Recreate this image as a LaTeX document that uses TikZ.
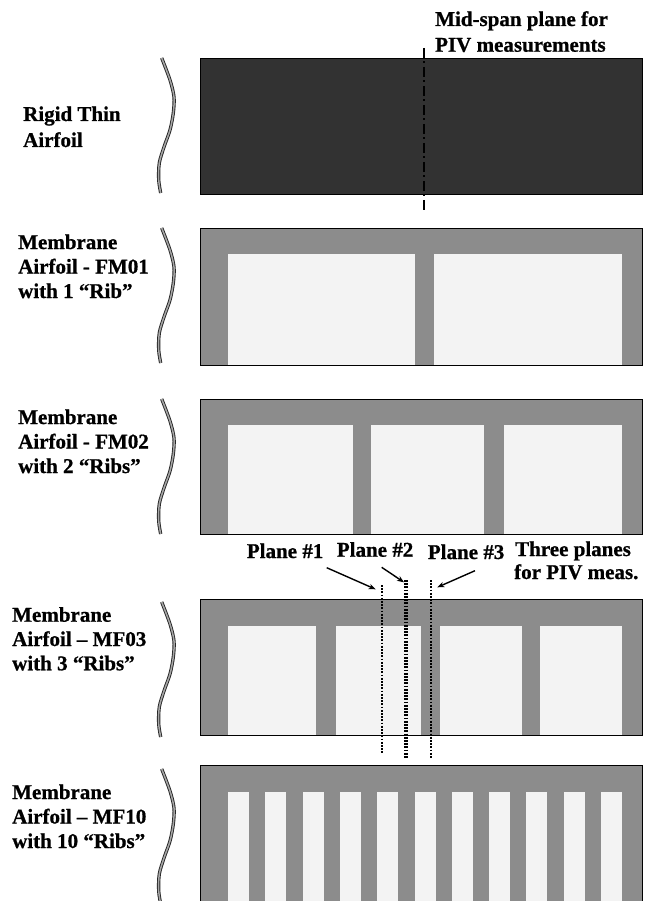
\documentclass[tikz,border=0pt]{standalone}
\usepackage{fontspec}
\setmainfont{Liberation Serif}[BoldFeatures={FakeBold=0.8}]
\usetikzlibrary{arrows.meta}
\definecolor{darkfill}{RGB}{50,50,50}
\definecolor{framegray}{RGB}{140,140,140}
\definecolor{panefill}{RGB}{243,243,243}
\begin{document}
\begin{tikzpicture}[x=1pt,y=-1pt,
  lab/.style={anchor=base west, inner sep=0pt, font=\fontsize{21}{25}\selectfont\bfseries},
  panelbox/.style={draw=black, line width=0.9pt, inner sep=0pt, outer sep=0pt, anchor=north west},
  pane/.style={fill=panefill, draw=none},
  bracestyle/.style={draw=black!85, double=black!35, line width=0.9pt, double distance=1.5pt},
  planeline/.style={draw=black, line width=2.8pt, dash pattern=on 1.7pt off 1.5pt},
  pointer/.style={draw=black, line width=1.4pt, -{Stealth[length=7pt,width=5.5pt]}},
  midline/.style={draw=black, line width=2.2pt, dash pattern=on 10pt off 3.5pt on 2pt off 3.5pt}
]
\useasboundingbox (0,0) rectangle (655,901);
\clip (0,0) rectangle (655,901);

% ---------- Panel 1: rigid thin airfoil ----------
\node[panelbox, fill=darkfill, minimum width=442pt, minimum height=136pt] (p1) at (200,58) {};

% ---------- Panel 2: one rib ----------
\fill[framegray] (200,228) rectangle (642,365);
\fill[pane] (228,254) rectangle (415,365);
\fill[pane] (434,254) rectangle (622,365);
\node[panelbox, minimum width=442pt, minimum height=137pt] (p2) at (200,228) {};

% ---------- Panel 3: two ribs ----------
\fill[framegray] (200,399) rectangle (642,534);
\foreach \a/\b in {228/352.7, 370.7/484, 504/622}
  \fill[pane] (\a,425) rectangle (\b,534);
\node[panelbox, minimum width=442pt, minimum height=135pt] (p3) at (200,399) {};

% ---------- Panel 4: three ribs ----------
\fill[framegray] (200,599) rectangle (642,735.7);
\foreach \a/\b in {228/316, 336/421, 440/522, 540/622}
  \fill[pane] (\a,626) rectangle (\b,735.7);
\node[panelbox, minimum width=442pt, minimum height=136.7pt] (p4) at (200,599) {};

% ---------- Panel 5: ten ribs ----------
\fill[framegray] (200,765.7) rectangle (642,910);
\foreach \i in {0,...,10}
  \fill[pane] ({228+37.3*\i},792) rectangle ({249+37.3*\i},910);
\node[panelbox, minimum width=442pt, minimum height=144.3pt] (p5) at (200,765.7) {};

% ---------- Braces ----------
\foreach \T in {58,228,399,602,769}{
  \begin{scope}[shift={(0,\T)}]
    \draw[bracestyle] plot[smooth] coordinates {(161.7,0) (170,22) (174,39) (173.3,55) (170,72) (164,89) (159.3,105) (158.7,122) (160.7,135)};
  \end{scope}
}

% ---------- Left labels ----------
\node[lab] (r1a) at (23,121) {Rigid Thin};
\node[lab] (r1b) at (23,147) {Airfoil};

\node[lab] (r2a) at (18,249) {Membrane};
\node[lab] (r2b) at (18,273.5) {Airfoil - FM01};
\node[lab] (r2c) at (18,298) {with 1 “Rib”};

\node[lab] (r3a) at (18,424) {Membrane};
\node[lab] (r3b) at (18,448.5) {Airfoil - FM02};
\node[lab] (r3c) at (18,473) {with 2 “Ribs”};

\node[lab] (r4a) at (12,621.7) {Membrane};
\node[lab] (r4b) at (12,646) {Airfoil – MF03};
\node[lab] (r4c) at (12,670.3) {with 3 “Ribs”};

\node[lab] (r5a) at (12,799) {Membrane};
\node[lab] (r5b) at (12,823.5) {Airfoil – MF10};
\node[lab] (r5c) at (12,848) {with 10 “Ribs”};

% ---------- Mid-span plane ----------
\node[lab] (ms1) at (435,26) {Mid-span plane for};
\node[lab] (ms2) at (435,51.7) {PIV measurements};
\coordinate (mstop) at (424,48);
\coordinate (msbot) at (424,211);
\draw[midline] (mstop) -- (msbot);

% ---------- Three planes for PIV ----------
\node[lab] (pl1) at (246.7,558) {Plane \#1};
\node[lab] (pl2) at (336.7,556.7) {Plane \#2};
\node[lab] (pl3) at (427.7,559) {Plane \#3};
\node[lab] (tp1) at (515,556) {Three planes};
\node[lab] (tp2) at (514,579) {for PIV meas.};

\coordinate (d1a) at (382,585);
\coordinate (d1b) at (382,753);
\coordinate (d2a) at (406,580);
\coordinate (d2b) at (406,758);
\coordinate (d3a) at (431,580);
\coordinate (d3b) at (431,758);
\draw[planeline] (d1a) -- (d1b);
\draw[planeline, line width=3.4pt] (d2a) -- (d2b);
\draw[planeline] (d3a) -- (d3b);

\coordinate (a1s) at (326.7,567.7);
\coordinate (a1e) at (375.7,589.3);
\coordinate (a2s) at (381.7,567.3);
\coordinate (a2e) at (404,582.3);
\coordinate (a3s) at (475,570.7);
\coordinate (a3e) at (437.3,587.3);
\draw[pointer] (a1s) -- (a1e);
\draw[pointer] (a2s) -- (a2e);
\draw[pointer] (a3s) -- (a3e);
\end{tikzpicture}
\end{document}
